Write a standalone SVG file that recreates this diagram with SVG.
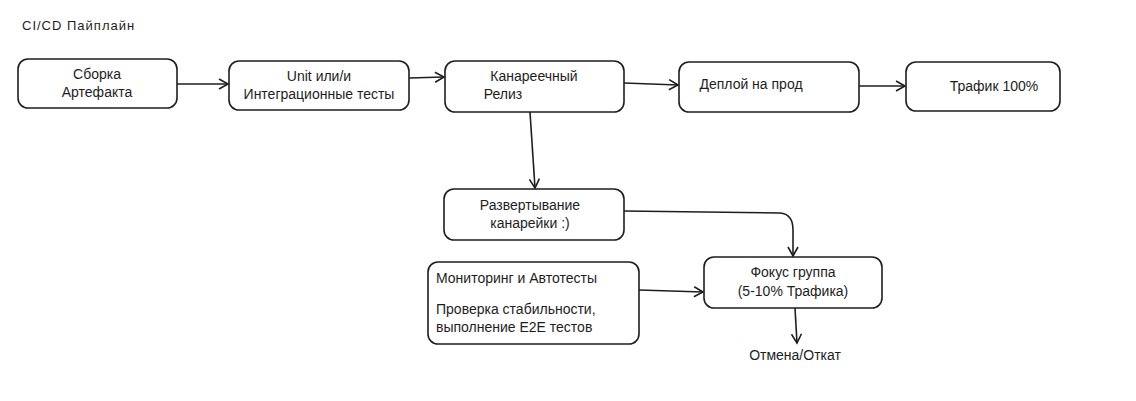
<svg xmlns="http://www.w3.org/2000/svg" width="1136" height="401" viewBox="0 0 1136 401">
<style>
.n{fill:#fff;stroke:#1e1e1e;stroke-width:1.6}
text{font-family:"Liberation Sans",sans-serif;font-size:14px;fill:#1e1e1e}
.c{text-anchor:middle}
.e{fill:none;stroke:#1e1e1e;stroke-width:1.6}
</style>
<defs><marker id="a" markerWidth="12" markerHeight="12" refX="10" refY="6" orient="auto" markerUnits="userSpaceOnUse"><path d="M1,1 L10,6 L1,11" fill="none" stroke="#1e1e1e" stroke-width="1.6"/></marker></defs>
<rect width="1136" height="401" fill="#fff"/>
<text x="22" y="30" style="font-size:13px;letter-spacing:1px">CI/CD Пайплайн</text>
<g id="n1"><rect class="n" x="18" y="59" width="159" height="49" rx="10"/><text class="c" x="97" y="79">Сборка</text><text class="c" x="97" y="97">Артефакта</text></g>
<g id="n2"><rect class="n" x="229" y="61" width="180" height="49" rx="10"/><text class="c" x="319" y="81">Unit или/и</text><text class="c" x="319" y="99">Интеграционные тесты</text></g>
<g id="n3"><rect class="n" x="445" y="61" width="179" height="51" rx="10"/><text class="c" x="534" y="81">Канареечный</text><text class="c" x="503" y="99">Релиз</text></g>
<g id="n4"><rect class="n" x="679" y="62" width="180" height="50" rx="10"/><text class="c" x="751" y="89">Деплой на прод</text></g>
<g id="n5"><rect class="n" x="906" y="62" width="154" height="49" rx="10"/><text class="c" x="994" y="91">Трафик 100%</text></g>
<g id="n6"><rect class="n" x="444" y="189" width="180" height="51" rx="10"/><text class="c" x="530" y="210">Развертывание</text><text class="c" x="530" y="228">канарейки :)</text></g>
<g id="n7"><rect class="n" x="428" y="262" width="211" height="82" rx="10"/><text x="436" y="283">Мониторинг и Автотесты</text><text x="436" y="314">Проверка стабильности,</text><text x="436" y="332">выполнение E2E тестов</text></g>
<g id="n8"><rect class="n" x="704" y="257" width="178" height="51" rx="10"/><text class="c" x="793" y="277">Фокус группа</text><text class="c" x="793" y="296">(5-10% Трафика)</text></g>
<text class="c" x="795" y="360">Отмена/Откат</text>
<g id="edges">
<path class="e" marker-end="url(#a)" d="M177,84 L228,84"/>
<path class="e" marker-end="url(#a)" d="M409,78 L444,77"/>
<path class="e" marker-end="url(#a)" d="M624,83 L678,85"/>
<path class="e" marker-end="url(#a)" d="M859,86 L905,86"/>
<path class="e" marker-end="url(#a)" d="M530,112 L535,188"/>
<path class="e" marker-end="url(#a)" d="M624,211 L780,213 Q793,214 793,230 L793,256"/>
<path class="e" marker-end="url(#a)" d="M639,290 L703,292"/>
<path class="e" marker-end="url(#a)" d="M795,308 L797,343"/>
</g>
</svg>
